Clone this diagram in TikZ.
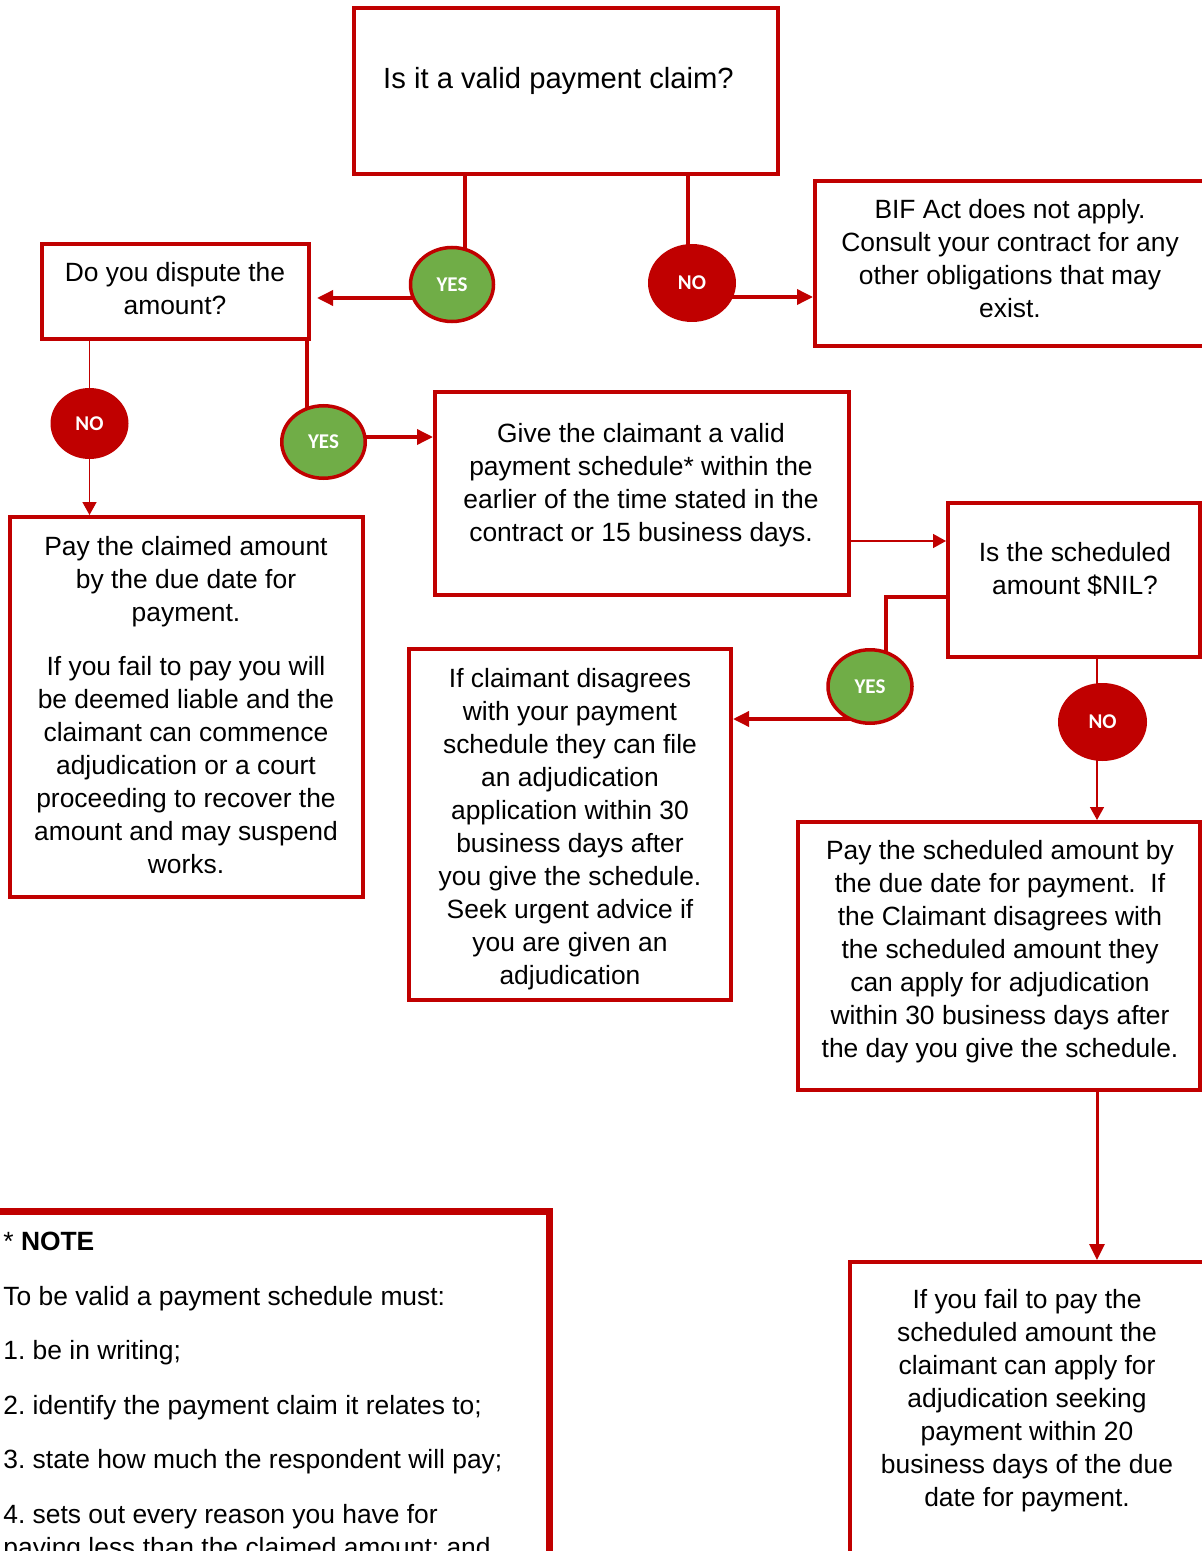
\documentclass[tikz,border=0pt]{standalone}
\usepackage{fontspec}
\setmainfont{Liberation Sans}
\newfontfamily\badgefont{Carlito}
\usetikzlibrary{arrows.meta, backgrounds, shapes.geometric}
\definecolor{my_red}{HTML}{C00000}
\definecolor{my_green}{HTML}{70AD47}
\newcommand{\bodyfont}{\fontsize{13.2pt}{16.5pt}\selectfont}
\newcommand{\badgesize}{\badgefont\bfseries\fontsize{10.5pt}{12pt}\selectfont}

\begin{document}
\begin{tikzpicture}[
    x=0.5pt, y=-0.5pt,
    box/.style={draw=my_red, line width=2pt, inner sep=0pt},
    txt/.style={font=\bodyfont, align=center, inner sep=0pt},
    yesbubble/.style={ellipse, fill=my_green, draw=my_red, line width=1.75pt,
        inner sep=0pt, font=\badgesize, text=white},
    nobubble/.style={ellipse, fill=my_red, inner sep=0pt, font=\badgesize, text=white},
    link/.style={my_red, line width=1.75pt},
    thinlink/.style={my_red, line width=0.75pt},
    arr/.style={link, -{Triangle[length=8pt, width=7.5pt]}},
    thinarr/.style={thinlink, -{Triangle[length=6.5pt, width=7pt]}}
]
\useasboundingbox (0,0) rectangle (1202,1551);
\clip (0,0) rectangle (1202,1551);

% ---------------------------------------------------------------
%  Ablauf: Zahlungsforderung -> Zahlungsplan -> Adjudikation
%  Kaesten rot umrandet, JA gruen, NEIN rot
% ---------------------------------------------------------------

% ---- Kaesten ----
\node[box, minimum width=212pt, minimum height=83pt] (claim) at (566,91) {};
\node[txt, font=\fontsize{14.6pt}{18pt}\selectfont] (claimtxt) at (558.5,81) {Is it a valid payment claim?};

\node[box, minimum width=133.5pt, minimum height=47.5pt] (dispute) at (175.5,291.5) {};
\node[txt] (disputetxt) at (175,289) {Do you dispute the\\amount?};

\node[box, minimum width=207.5pt, minimum height=82.5pt] (bif) at (1022.5,263.5) {};
\node[txt] (biftxt) at (1010,258.5) {BIF Act does not apply.\\Consult your contract for any\\other obligations that may\\exist.};

\node[box, minimum width=207pt, minimum height=101.5pt] (give) at (642,493.5) {};
\node[txt] (givetxt) at (641,485) {Give the claimant a valid\\payment schedule* within the\\earlier of the time stated in the\\contract or 15 business days.};

\node[box, minimum width=176.5pt, minimum height=190pt] (pay) at (186.5,707) {};
\node[txt] (paytxt) at (186,705) {Pay the claimed amount\\by the due date for\\payment.\\[10.75pt]If you fail to pay you will\\be deemed liable and the\\claimant can commence\\adjudication or a court\\proceeding to recover the\\amount and may suspend\\works.};

\node[box, minimum width=126pt, minimum height=77pt] (nil) at (1074,580) {};
\node[txt] (niltxt) at (1075,569.5) {Is the scheduled\\amount \$NIL?};

\node[box, minimum width=161pt, minimum height=175.5pt] (claimant) at (570,824.5) {};
\node[txt] (claimanttxt) at (570,829) {If claimant disagrees\\with your payment\\schedule they can file\\an adjudication\\application within 30\\business days after\\you give the schedule.\\Seek urgent advice if\\you are given an\\adjudication};

\node[box, minimum width=201pt, minimum height=134pt] (sched) at (999,956) {};
\node[txt] (schedtxt) at (1000,952) {Pay the scheduled amount by\\the due date for payment.\ \ If\\the Claimant disagrees with\\the scheduled amount they\\can apply for adjudication\\within 30 business days after\\the day you give the schedule.};

\node[box, minimum width=190pt, minimum height=169pt] (fail) at (1040,1431) {};
\node[txt] (failtxt) at (1027,1401) {If you fail to pay the\\scheduled amount the\\claimant can apply for\\adjudication seeking\\payment within 20\\business days of the due\\date for payment.};

% ---- Hinweis (unten links) ----
\node[box, line width=3.5pt, minimum width=284.5pt, minimum height=194.5pt] (note) at (264.5,1405.5) {};
\node[txt, align=left, anchor=west] (notetxt) at (3,1397) {* \textbf{NOTE}\\[10.75pt]To be valid a payment schedule must:\\[10.75pt]1.\ be in writing;\\[10.75pt]2.\ identify the payment claim it relates to;\\[10.75pt]3.\ state how much the respondent will pay;\\[10.75pt]4.\ sets out every reason you have for\\paying less than the claimed amount; and};

% ---- JA / NEIN ----
\node[yesbubble, minimum width=41.5pt, minimum height=37pt] (yes1) at (452,284.5) {YES};
\node[nobubble, minimum width=44pt, minimum height=39pt] (no1) at (692,283) {NO};
\node[nobubble, minimum width=39pt, minimum height=35.5pt] (no2) at (89.5,423.5) {NO};
\node[yesbubble, minimum width=41.75pt, minimum height=36.25pt] (yes2) at (323.5,442) {YES};
\node[yesbubble, minimum width=42pt, minimum height=36.75pt] (yes3) at (870,686.5) {YES};
\node[nobubble, minimum width=44.5pt, minimum height=39pt] (no3) at (1102.5,722) {NO};

% ---- Verbindungen ----
\coordinate (tapA) at (465,0);
\coordinate (tapB) at (688,0);
\coordinate (tapC) at (0,298);
\coordinate (tapD) at (0,297);
\coordinate (tapE) at (307,0);
\coordinate (tapF) at (0,437);
\coordinate (tapG) at (0,541);
\coordinate (bendH) at (886,597);
\coordinate (tapI) at (0,719);
\coordinate (tapJ) at (1097,0);

\begin{scope}[on background layer]
    \draw[link] (claim.south -| tapA) -- (yes1.center -| tapA);
    \draw[link] (claim.south -| tapB) -- (no1.center -| tapB);
    \draw[arr, shorten >=3pt] (yes1.center |- tapC) -- (dispute.east |- tapC);
    \draw[arr] (no1.center |- tapD) -- (bif.west |- tapD);
    \draw[thinlink] (dispute.south -| no2) -- (no2);
    \draw[thinarr] (no2) -- (pay.north -| no2);
    \draw[link] (dispute.south -| tapE) -- (yes2.center -| tapE);
    \draw[arr] (yes2.center |- tapF) -- (give.west |- tapF);
    \draw[thinarr] (give.east |- tapG) -- (nil.west |- tapG);
    \draw[link] (nil.west |- bendH) -- (bendH) -- (yes3.center -| bendH);
    \draw[arr] (yes3.center |- tapI) -- (claimant.east |- tapI);
    \draw[thinlink] (nil.south -| tapJ) -- (no3.center -| tapJ);
    \draw[thinarr] (no3.center -| tapJ) -- (sched.north -| tapJ);
    \draw[link, line width=1.5pt, -{Triangle[length=8pt, width=7.5pt]}] (sched.south -| tapJ) -- (fail.north -| tapJ);
\end{scope}

\end{tikzpicture}
\end{document}
